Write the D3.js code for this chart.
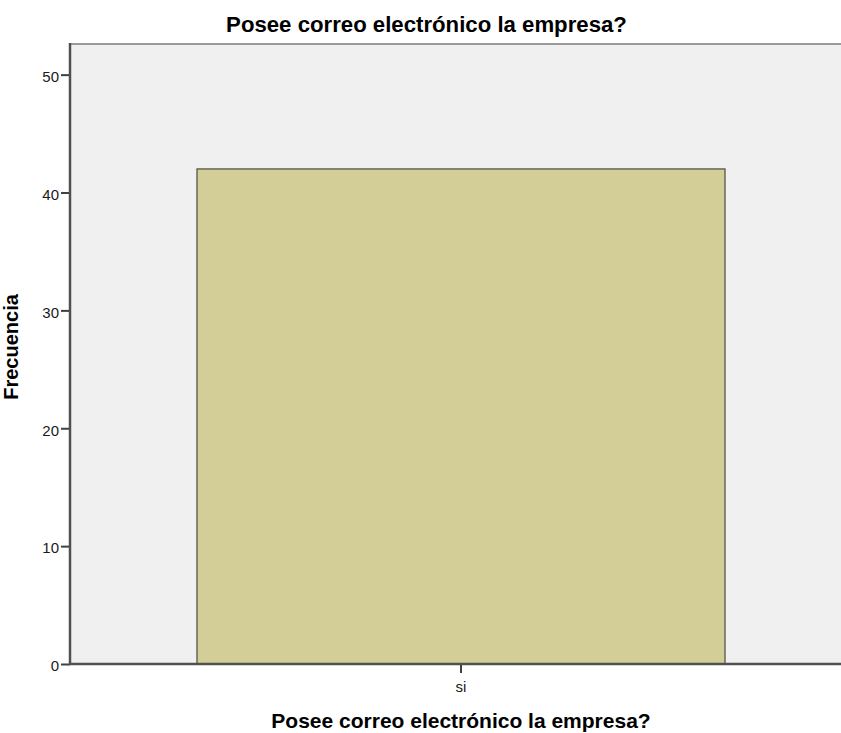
<!DOCTYPE html>
<html>
<head>
<meta charset="utf-8">
<script src="https://cdn.jsdelivr.net/npm/d3@7"></script>
<style>
  html, body { margin: 0; padding: 0; background: #ffffff; }
  svg { display: block; font-family: "Liberation Sans", Arial, sans-serif; }
</style>
</head>
<body>
<svg id="chart" width="841" height="733"></svg>
<script>
const categories = ["si"];
const frequencies = [42];
const yTicks = [0, 10, 20, 30, 40, 50];
const yMax = 52.6;
const chartTitle = "Posee correo electrónico la empresa?";
const xTitle = "Posee correo electrónico la empresa?";
const yTitle = "Frecuencia";

const svg = d3.select("#chart");
const plot = { left: 70, right: 852, top: 44, bottom: 664 };

const x = d3.scaleBand().domain(categories).range([plot.left, plot.right])
  .paddingInner(0).paddingOuter(0.2405);
const y = d3.scaleLinear().domain([0, yMax]).range([plot.bottom, plot.top]);

// plot background
svg.append("rect")
  .attr("x", plot.left).attr("y", plot.top)
  .attr("width", plot.right - plot.left).attr("height", plot.bottom - plot.top)
  .attr("fill", "#f0f0f0");

// top border
svg.append("line")
  .attr("x1", plot.left).attr("x2", 841)
  .attr("y1", plot.top).attr("y2", plot.top)
  .attr("stroke", "#9a9a9a").attr("stroke-width", 2);

// bars
svg.selectAll("rect.bar").data(categories).enter().append("rect")
  .attr("class", "bar")
  .attr("x", d => x(d))
  .attr("y", (d, i) => y(frequencies[i]))
  .attr("width", x.bandwidth())
  .attr("height", (d, i) => y(0) - y(frequencies[i]))
  .attr("fill", "#d3ce98")
  .attr("stroke", "#4a4a40").attr("stroke-width", 1.2);

// y axis
const yAxis = d3.axisLeft(y).tickValues(yTicks).tickSize(9).tickPadding(2).tickFormat(d3.format("d"));
const gy = svg.append("g").attr("transform", `translate(${plot.left},0)`).call(yAxis);
gy.select(".domain").remove();
gy.selectAll(".tick line").attr("stroke", "#404040").attr("stroke-width", 2);
gy.selectAll(".tick text").attr("fill", "#1a1a1a").attr("dy", "0.45em").style("font-size", "15px")
  .style("font-family", "'Liberation Sans', Arial, sans-serif");
svg.append("line")
  .attr("x1", plot.left).attr("x2", plot.left)
  .attr("y1", plot.top - 1).attr("y2", plot.bottom + 1)
  .attr("stroke", "#505050").attr("stroke-width", 2.5);

// x axis
const xAxis = d3.axisBottom(x).tickSize(9).tickPadding(8);
const gx = svg.append("g").attr("transform", `translate(0,${plot.bottom})`).call(xAxis);
gx.select(".domain").remove();
gx.selectAll(".tick line").attr("stroke", "#404040").attr("stroke-width", 2);
gx.selectAll(".tick text").attr("fill", "#1a1a1a").style("font-size", "15px")
  .style("font-family", "'Liberation Sans', Arial, sans-serif");
svg.append("line")
  .attr("x1", plot.left - 1).attr("x2", 841)
  .attr("y1", plot.bottom).attr("y2", plot.bottom)
  .attr("stroke", "#505050").attr("stroke-width", 2.5);

// titles
svg.append("text")
  .attr("x", 426.5).attr("y", 32)
  .attr("text-anchor", "middle")
  .style("font-size", "22.2px").style("font-weight", "bold").attr("fill", "#000")
  .text(chartTitle);

svg.append("text")
  .attr("x", x(categories[0]) + x.bandwidth() / 2).attr("y", 728)
  .attr("text-anchor", "middle")
  .style("font-size", "21px").style("font-weight", "bold").attr("fill", "#000")
  .text(xTitle);

svg.append("text")
  .attr("transform", `translate(18,347) rotate(-90)`)
  .attr("text-anchor", "middle")
  .style("font-size", "20px").style("font-weight", "bold").attr("fill", "#000")
  .text(yTitle);
</script>
</body>
</html>
